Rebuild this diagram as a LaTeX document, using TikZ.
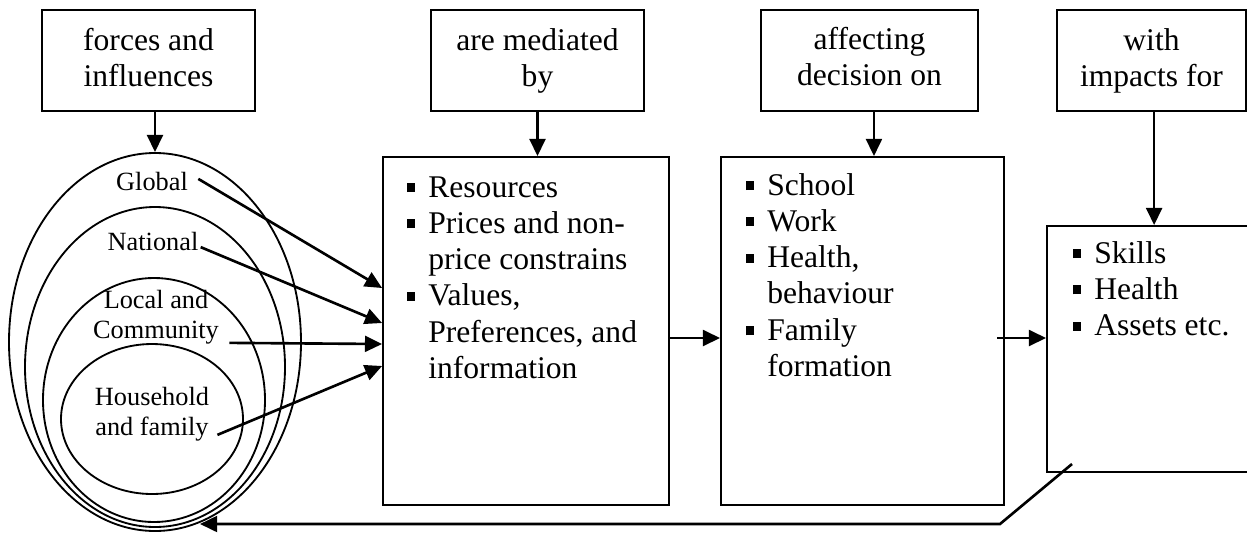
\documentclass[tikz,border=0pt]{standalone}
\usepackage{fontspec}
\setmainfont{Liberation Serif}
\usetikzlibrary{arrows.meta,shapes.geometric,fit}
\tikzset{
  box/.style={draw, line width=0.7pt, inner sep=0pt},
  ring/.style={draw, ellipse, line width=0.7pt, inner sep=0pt},
  arr/.style={line width=1pt, -{Triangle[length=6.5pt,width=6pt]}},
  headtxt/.style={font=\fontsize{12}{13.8}\selectfont, anchor=base, inner sep=0pt},
  lab/.style={font=\fontsize{10}{11.5}\selectfont, anchor=base, inner sep=0pt},
  listtxt/.style={font=\fontsize{12}{13.8}\selectfont, anchor=base west, inner sep=0pt},
}
\newcommand\bul{\raisebox{1.9pt}{\rule{3.4pt}{3.4pt}}}
\newcommand\twolines[2]{\begin{tabular}[t]{@{}c@{}}#1\\#2\end{tabular}}
\begin{document}
\begin{tikzpicture}[x=0.38pt,y=-0.38pt]
\useasboundingbox (0,0) rectangle (1247,532);

% header boxes
\node[box, fit={(42,10) (255,111)}] (T1) {};
\node[box, fit={(431,10) (644,111)}] (T2) {};
\node[box, fit={(761,10) (978,111)}] (T3) {};
\node[box, fit={(1057,10) (1246,111)}] (T4) {};
\node[headtxt] (T1t) at (T1.center |- 0,50) {\twolines{forces and}{influences}};
\node[headtxt] (T2t) at (T2.center |- 0,50) {\twolines{are mediated}{by}};
\node[headtxt] (T3t) at (T3.center |- 0,49) {\twolines{affecting}{decision on}};
\node[headtxt] (T4t) at (T4.center |- 0,50) {\twolines{with}{impacts for}};

% main boxes
\node[box, fit={(383,157) (669,505)}] (B2) {};
\node[box, fit={(721,157) (1004,505)}] (B3) {};
\node[box, fit={(1047,226) (1270,472)}] (B4) {};

% lists
\node[listtxt] (L2) at (406,197) {\begin{tabular}[t]{@{}l@{\hspace{4.9pt}}l@{}}
\bul & Resources\\
\bul & Prices and non-\\
     & price constrains\\
\bul & Values,\\
     & Preferences, and\\
     & information
\end{tabular}};
\node[listtxt] (L3) at (745,195) {\begin{tabular}[t]{@{}l@{\hspace{4.9pt}}l@{}}
\bul & School\\
\bul & Work\\
\bul & Health,\\
     & behaviour\\
\bul & Family\\
     & formation
\end{tabular}};
\node[listtxt] (L4) at (1072,263) {\begin{tabular}[t]{@{}l@{\hspace{4.9pt}}l@{}}
\bul & Skills\\
\bul & Health\\
\bul & Assets etc.
\end{tabular}};

% rings
\node[ring, minimum width={292*0.38pt}, minimum height={378*0.38pt}] (E1) at (155,342) {};
\node[ring, minimum width={260*0.38pt}, minimum height={320*0.38pt}] (E2) at (155,367) {};
\node[ring, minimum width={222*0.38pt}, minimum height={244*0.38pt}] (E3) at (154,400) {};
\node[ring, minimum width={182*0.38pt}, minimum height={150*0.38pt}] (E4) at (152,419) {};

% ring labels
\node[lab] (Glo) at (152,190) {Global};
\node[lab] (Nat) at (153,250) {National};
\node[lab] (Loc) at (156,308) {\twolines{Local and}{Community}};
\node[lab] (Hou) at (152,405) {\twolines{Household}{and family}};

% entry points on B2
\coordinate (in1) at (B2.west |- 0,288);
\coordinate (in2) at (B2.west |- 0,323);
\coordinate (in3) at (B2.west |- 0,344);
\coordinate (in4) at (B2.west |- 0,366);

\draw[arr] ([xshift=3.8pt,yshift=0.8pt]Glo.east) -- (in1);
\draw[arr] ([xshift=0.7pt,yshift=1.1pt]Nat.base east) -- (in2);
\draw[arr] ([xshift=3.8pt,yshift=1.9pt]Loc.south east) -- (in3);
\draw[arr] ([xshift=3pt,yshift=3.8pt]Hou.south east) -- (in4);

% vertical arrows from headers
\draw[arr] (T1.south -| E1.north) -- (E1.north);
\draw[arr] (T2.south) -- (T2.south |- B2.north);
\draw[arr] ([xshift=1.7pt]T3.south) -- ([xshift=1.7pt]T3.south |- B3.north);
\draw[arr] ([xshift=1pt]T4.south) -- ([xshift=1pt]T4.south |- B4.north);

% horizontal arrows
\draw[arr] (B2.east |- 0,338) -- (B3.west |- 0,338);
\draw[arr] ([xshift=-3pt]B3.east |- 0,338) -- (B4.west |- 0,338);

% feedback
\coordinate (fb0) at (1072,464);
\coordinate (fb1) at (1000,524);
\coordinate (fb2) at (200,524);
\draw[arr] (fb0) -- (fb1) -- (fb2);
\end{tikzpicture}
\end{document}
